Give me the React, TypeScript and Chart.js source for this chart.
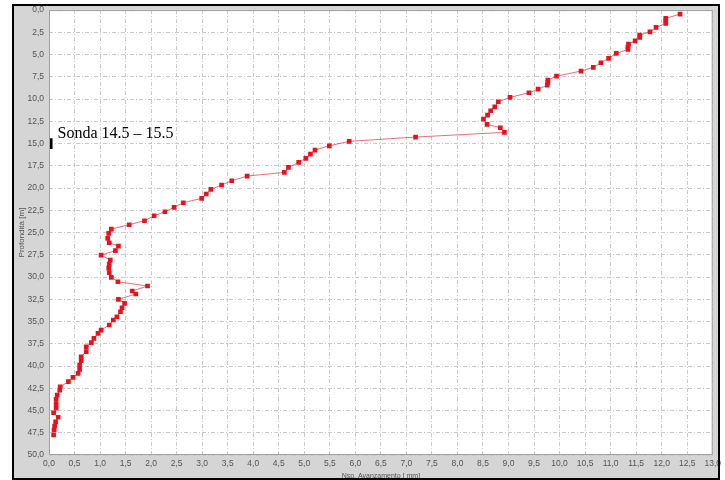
import { useEffect, useRef } from "react";
import { Chart, registerables } from "chart.js";
Chart.register(...registerables);

// Measured profile: value on the x axis, depth (m) on the y axis
const valueX = [
  12.36, 12.08, 12.08, 12.08, 11.89, 11.77, 11.57, 11.57, 11.48, 11.35,
  11.34, 11.34, 11.11, 10.96, 10.81, 10.66, 10.42, 9.94, 9.77, 9.77,
  9.76, 9.58, 9.4, 9.03, 8.8, 8.73, 8.65, 8.59, 8.51, 8.58,
  8.84, 8.92, 7.18, 5.88, 5.49, 5.21, 5.12, 5.03, 4.89, 4.69,
  4.61, 3.88, 3.58, 3.38, 3.17, 3.08, 2.99, 2.63, 2.45, 2.27,
  2.06, 1.87, 1.57, 1.22, 1.17, 1.15, 1.18, 1.36, 1.3, 1.02,
  1.2, 1.18, 1.17, 1.18, 1.22, 1.35, 1.93, 1.63, 1.7, 1.36,
  1.48, 1.43, 1.4, 1.33, 1.26, 1.18, 1.02, 0.96, 0.88, 0.83,
  0.73, 0.73, 0.63, 0.63, 0.6, 0.6, 0.57, 0.47, 0.38, 0.22,
  0.21, 0.16, 0.14, 0.14, 0.14, 0.09, 0.18, 0.13, 0.11, 0.1,
  0.09,
];
const depthM = [
  0.45, 0.93, 1.2, 1.49, 1.94, 2.44, 2.81, 3.07, 3.45, 3.82,
  4.12, 4.42, 4.87, 5.43, 5.92, 6.44, 6.85, 7.42, 7.87, 8.12,
  8.43, 8.88, 9.29, 9.81, 10.3, 10.87, 11.31, 11.8, 12.25, 12.84,
  13.22, 13.74, 14.27, 14.75, 15.25, 15.73, 16.18, 16.66, 17.11, 17.67,
  18.24, 18.65, 19.18, 19.66, 20.15, 20.67, 21.16, 21.65, 22.17, 22.66,
  23.11, 23.67, 24.12, 24.61, 25.09, 25.65, 26.15, 26.52, 27.04, 27.53,
  28.09, 28.54, 29.02, 29.52, 30.03, 30.53, 31.01, 31.57, 31.91, 32.51,
  32.96, 33.45, 33.9, 34.46, 34.83, 35.39, 35.96, 36.33, 36.89, 37.38,
  37.83, 38.39, 38.96, 39.4, 39.89, 40.37, 40.82, 41.27, 41.76, 42.33,
  42.7, 43.26, 43.74, 44.27, 44.75, 45.25, 45.76, 46.26, 46.74, 47.19,
  47.75,
];

// Probe marker (Sonda) range
const markerDepth = [14.4, 15.6];
const markerValue = [0.03, 0.03];
const markerLabel = "Sonda 14.5 – 15.5";

const xTicks = [
  0, 0.5, 1, 1.5, 2, 2.5, 3, 3.5, 4, 4.5, 5, 5.5, 6, 6.5, 7, 7.5, 8, 8.5, 9,
  9.5, 10, 10.5, 11, 11.5, 12, 12.5, 13,
];
const yTicks = [
  0, 2.5, 5, 7.5, 10, 12.5, 15, 17.5, 20, 22.5, 25, 27.5, 30, 32.5, 35, 37.5,
  40, 42.5, 45, 47.5, 50,
];
const xTitle = "Nsp. Avanzamento [ mm]";
const yTitle = "Profondità [m]";

const fmt = (v: number) => v.toFixed(1).replace(".", ",");

export default function App() {
  const ref = useRef<HTMLCanvasElement | null>(null);

  useEffect(() => {
    if (!ref.current) return;
    const pts = depthM.map((d, i) => ({ x: valueX[i], y: d }));
    const marker = markerDepth.map((d, i) => ({ x: markerValue[i], y: d }));

    const framePlugin = {
      id: "framePlugin",
      beforeDraw(chart: any) {
        const { ctx, width, height, chartArea } = chart;
        ctx.save();
        ctx.fillStyle = "#ffffff";
        ctx.fillRect(0, 0, width, height);
        ctx.fillStyle = "#d5d5d5";
        ctx.fillRect(12, 5, width - 18, height - 6);
        ctx.fillStyle = "#ffffff";
        ctx.fillRect(
          chartArea.left,
          chartArea.top,
          chartArea.right - chartArea.left,
          chartArea.bottom - chartArea.top
        );
        ctx.restore();
      },
      afterDraw(chart: any) {
        const { ctx, width, height, chartArea, scales } = chart;
        ctx.save();
        ctx.strokeStyle = "#a0a0a0";
        ctx.lineWidth = 1;
        ctx.strokeRect(
          chartArea.left + 0.5,
          chartArea.top + 0.5,
          chartArea.right - chartArea.left - 1,
          chartArea.bottom - chartArea.top - 1
        );
        ctx.strokeStyle = "#000000";
        ctx.lineWidth = 2;
        ctx.strokeRect(13, 5, width - 19, height - 6);
        // marker label
        const px = scales.x.getPixelForValue(markerValue[0]) + 7;
        const py = scales.y.getPixelForValue(markerDepth[0]) - 0.5;
        ctx.fillStyle = "#000000";
        ctx.font = "16px 'Liberation Serif', 'DejaVu Serif', serif";
        ctx.textAlign = "left";
        ctx.textBaseline = "alphabetic";
        ctx.fillText(markerLabel, px, py);
        ctx.restore();
      },
    };

    const chart = new Chart(ref.current, {
      type: "scatter",
      data: {
        datasets: [
          {
            data: pts,
            showLine: true,
            borderColor: "rgba(230,60,80,0.75)",
            borderWidth: 1,
            backgroundColor: "#e8121c",
            pointBackgroundColor: "#e8121c",
            pointBorderColor: "#e8121c",
            pointBorderWidth: 0,
            pointStyle: "rect",
            pointRadius: 3.3,
          },
          {
            data: marker,
            showLine: true,
            borderColor: "#000000",
            borderWidth: 4,
            pointRadius: 0,
            borderCapStyle: "butt",
          },
        ],
      },
      options: {
        responsive: false,
        animation: false,
        events: [],
        layout: { padding: { left: 13, right: 9, top: 10, bottom: 0 } },
        plugins: {
          legend: { display: false },
          tooltip: { enabled: false },
        },
        scales: {
          x: {
            type: "linear",
            min: 0,
            max: 13,
            afterBuildTicks: (s: any) => {
              s.ticks = xTicks.map((v) => ({ value: v }));
            },
            afterFit: (s: any) => {
              s.height = 25;
            },
            ticks: {
              autoSkip: false,
              maxRotation: 0,
              padding: 4,
              color: "#555",
              font: { family: "'Liberation Sans', Arial, sans-serif", size: 8.5 },
              callback: (v: any) => fmt(Number(v)),
            },
            grid: { color: "#c9c9c9", lineWidth: 1, drawTicks: false },
            border: { display: false, dash: [4, 2, 1, 2] },
            title: {
              display: true,
              text: xTitle,
              color: "#555",
              padding: { top: 0, bottom: 0 },
              font: { family: "'Liberation Sans', Arial, sans-serif", size: 7 },
            },
          },
          y: {
            type: "linear",
            reverse: true,
            min: 0,
            max: 50,
            afterBuildTicks: (s: any) => {
              s.ticks = yTicks.map((v) => ({ value: v }));
            },
            afterFit: (s: any) => {
              s.width = 36;
            },
            ticks: {
              autoSkip: false,
              padding: 5,
              color: "#555",
              font: { family: "'Liberation Sans', Arial, sans-serif", size: 8.5 },
              callback: (v: any) => fmt(Number(v)),
            },
            grid: { color: "#c9c9c9", lineWidth: 1, drawTicks: false },
            border: { display: false, dash: [4, 2, 1, 2] },
            title: {
              display: true,
              text: yTitle,
              color: "#555",
              padding: { top: 4, bottom: 0 },
              font: { family: "'Liberation Sans', Arial, sans-serif", size: 8 },
            },
          },
        },
      },
      plugins: [framePlugin],
    } as any);

    return () => chart.destroy();
  }, []);

  return (
    <div style={{ position: "fixed", left: 0, top: 0, width: 725, height: 480 }}>
      <canvas ref={ref} width={725} height={480} />
    </div>
  );
}
